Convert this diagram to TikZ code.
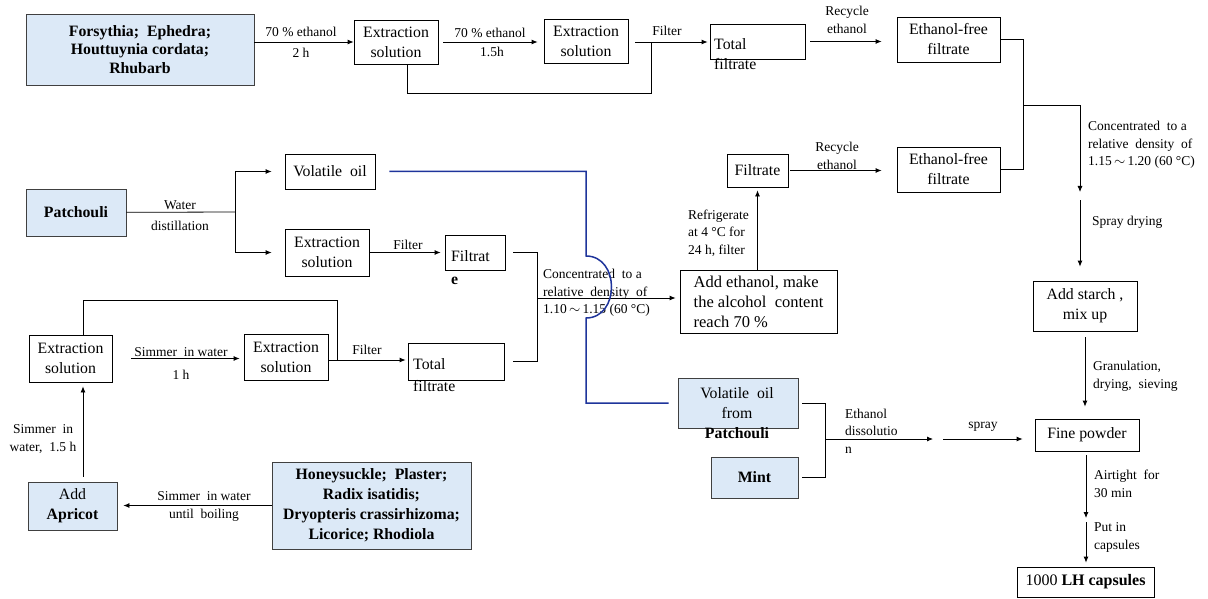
\documentclass[tikz,border=0pt]{standalone}
\usepackage{fontspec}
\setmainfont{Liberation Serif}
\usetikzlibrary{arrows.meta}
\definecolor{herbblue}{RGB}{220,233,247}
\definecolor{oilblue}{RGB}{30,52,155}
\newcommand{\bxfont}{\fontsize{15.8}{20}\selectfont}
\newcommand{\lbfont}{\fontsize{13.5}{17.5}\selectfont}
\newcommand{\tl}{\,$\sim$\,}
\begin{document}
\begin{tikzpicture}[x=1pt,y=-1pt]
\tikzset{box/.style={draw,line width=0.8pt,align=center,inner sep=0pt,font=\bxfont},
  herb/.style={box,fill=herbblue,draw=black!75,font=\bxfont\bfseries},
  lab/.style={font=\lbfont,align=center,inner sep=0pt},
  ln/.style={line width=0.8pt},
  arr/.style={ln,-{Latex[length=6pt,width=5pt]}}}
\useasboundingbox (0,0) rectangle (1208,599);
\node[herb,minimum width=228,minimum height=71] (forsy) at (140,49.5) {Forsythia;~ Ephedra;\\[-1.5pt]Houttuynia cordata;\\[-1.5pt]Rhubarb};
\node[box,minimum width=84,minimum height=44] (ext1) at (396,42) {Extraction\\solution};
\node[box,minimum width=84,minimum height=44] (ext2) at (586,41) {Extraction\\solution};
\node[box,minimum width=95,minimum height=35] (total1) at (757.5,41.5) {};
\node[lab,font=\bxfont,align=left,anchor=west] (total1t) at (714,54) {Total\\filtrate};
\node[box,minimum width=103,minimum height=45] (efree1) at (948.5,39.5) {Ethanol-free\\filtrate};
\node[box,minimum width=103,minimum height=45] (efree2) at (948.5,169.5) {Ethanol-free\\filtrate};
\node[box,minimum width=61,minimum height=33] (filt2) at (757.5,170.5) {Filtrate};
\node[box,minimum width=157,minimum height=63,align=left,font=\fontsize{16.5}{20}\selectfont] (addeth) at (758.5,301.5) {Add ethanol, make\\the alcohol~ content\\reach 70 \%};
\node[herb,minimum width=100,minimum height=47] (patch) at (76,212.5) {Patchouli};
\node[box,minimum width=90,minimum height=35] (voil) at (330,171.5) {Volatile~ oil};
\node[box,minimum width=84,minimum height=47] (ext3) at (327,252.5) {Extraction\\solution};
\node[box,minimum width=60,minimum height=35] (filt1) at (475,252.5) {};
\node[lab,font=\bxfont,align=left,anchor=west] (filt1t) at (451,267.5) {Filtrat\\[3pt]\textbf{e}};
\node[box,minimum width=83,minimum height=47] (ext4) at (70.5,358.5) {Extraction\\solution};
\node[box,minimum width=84,minimum height=46] (ext5) at (286,357) {Extraction\\solution};
\node[box,minimum width=96,minimum height=37] (total2) at (456,361.5) {};
\node[lab,font=\bxfont,align=left,anchor=west] (total2t) at (413,375) {Total\\[2pt]filtrate};
\node[herb,minimum width=89,minimum height=48,font=\bxfont] (apricot) at (72.5,506) {Add\\\textbf{Apricot}};
\node[herb,minimum width=199,minimum height=87] (honey) at (371.5,505.5) {Honeysuckle;~ Plaster;\\Radix isatidis;\\Dryopteris crassirhizoma;\\Licorice; Rhodiola};
\node[herb,minimum width=120,minimum height=50] (voilp) at (738,403) {};
\node[lab,font=\bxfont] (voilpt) at (737,413) {Volatile~ oil\\from\\\textbf{Patchouli}};
\node[herb,minimum width=87,minimum height=41] (mint) at (754.5,477.5) {Mint};
\node[box,minimum width=104,minimum height=50] (starch) at (1085,306) {Add starch ,\\mix up};
\node[box,minimum width=104,minimum height=32] (powder) at (1087,435) {Fine powder};
\node[box,minimum width=137,minimum height=30,font=\fontsize{16}{20}\selectfont] (caps) at (1085.5,582) {1000 \textbf{LH capsules}};
\coordinate (j1) at (651,42);
\coordinate (j2) at (537,298);
\coordinate (j3) at (1023,105);
\coordinate (c1) at (1080,192);
\coordinate (c2) at (1080,200);
\coordinate (j4) at (235,212);
\coordinate (h1) at (586,256);
\coordinate (h2) at (586,318);
\coordinate (j5) at (825,439);
\coordinate (c3) at (943,439);
\coordinate (j6) at (337,360);
\coordinate (c4) at (1086,518);
\coordinate (c5) at (1086,522);
\node[lab] (la1) at (301,32) {70 \% ethanol};
\node[lab] (la2) at (301,53) {2 h};
\node[lab] (lb1) at (490,33) {70 \% ethanol};
\node[lab] (lb2) at (492,52) {1.5h};
\node[lab] (lfil1) at (667,31) {Filter};
\node[lab] (lrec1) at (847,20) {Recycle\\ethanol};
\node[lab,align=left,anchor=west] (lconc1) at (1088,145) {Concentrated~ to a\\relative~ density~ of\\1.15\tl1.20 (60 °C)};
\node[lab,anchor=west] (lspray) at (1092,222) {Spray drying};
\node[lab] (lrec2) at (837,156) {Recycle\\ethanol};
\node[lab,align=left,anchor=west] (lrefr) at (688,233) {Refrigerate\\at 4 °C for\\24 h, filter};
\node[lab,align=left,anchor=west] (lconc2) at (543,293) {Concentrated~ to a\\relative~ density~ of\\1.10\tl1.15 (60 °C)};
\node[lab] (lwater) at (180,215.5) {Water\\[3pt]distillation};
\node[lab] (lfil2) at (408,245) {Filter};
\node[lab] (lfil3) at (367,350) {Filter};
\node[lab] (lsim1) at (181,363.5) {Simmer~ in water\\[5pt]1 h};
\node[lab] (lsim2) at (43,439) {Simmer~ in\\water,~ 1.5 h};
\node[lab] (lsim3) at (204,506.5) {Simmer~ in water\\until~ boiling};
\node[lab,align=left,anchor=west] (leth) at (845,431) {Ethanol\\dissolutio\\n};
\node[lab] (lspr) at (983,427) {spray};
\node[lab,align=left,anchor=west] (lgran) at (1093,376.5) {Granulation,\\drying,~ sieving};
\node[lab,align=left,anchor=west] (lair) at (1094,484) {Airtight~ for\\30 min};
\node[lab,align=left,anchor=west] (lput) at (1094,537.5) {Put in\\capsules};
\draw[arr] (forsy.east |- ext1) -- (ext1);
\draw[arr,shorten <=5,shorten >=6] (ext1) -- (ext1 -| ext2.west);
\draw[ln] ([xshift=7]ext2.east |- j1) -- (j1);
\draw[arr,shorten >=2] (j1) -- (j1 -| total1.west);
\draw[ln] ([xshift=11]ext1.south) -- ++(0,29) -| (j1);
\draw[arr,shorten <=5,shorten >=15] (total1.east) -- (total1.east -| efree1.west);
\draw[ln] (efree1) -| (j3) |- (efree2);
\draw[arr] (j3) -| (c1);
\draw[arr,shorten >=14] (c2) -- (c2 |- starch.north);
\draw[arr,shorten <=6,shorten >=12] (starch.south) -- (starch.south |- powder.north);
\draw[arr,shorten <=4] (powder.south -| c4) -- (c4);
\draw[arr,shorten >=4] (c5) -- (c5 |- caps.north);
\draw[arr,shorten <=2,shorten >=15] (filt2.east) -- (filt2.east -| efree2.west);
\draw[arr,shorten >=3] (addeth.north -| filt2) -- (filt2);
\draw[ln] ([xshift=8]filt1.east) -| (j2);
\draw[ln] ([xshift=9]total2.east) -| (j2);
\draw[arr,shorten >=4] (j2) -- (addeth.west |- j2);
\draw[ln] (patch) -- (j4);
\draw[arr,shorten >=13] (j4) |- (voil);
\draw[arr,shorten >=13] (j4) |- (ext3);
\draw[arr,shorten <=1,shorten >=4] (ext3) -- (filt1);
\draw[oilblue,line width=1.5pt] ([xshift=14]voil.east) -| (h1) .. controls (620,256) and (620,318) .. (h2) |- ([xshift=-9]voilp.west);
\draw[ln] ([xshift=12.5]ext4.north) -- ++(0,-34) -| (j6);
\draw[arr,shorten >=2] (ext5.east |- j6) -- (total2.west |- j6);
\draw[arr,shorten <=19,shorten >=4] (ext4.east) -- (ext4.east -| ext5.west);
\draw[arr,shorten <=5,shorten >=4] ([xshift=10.5]apricot.north) -- ([xshift=10.5]apricot.north |- ext4.south);
\draw[arr,shorten >=6] (honey) -- (honey -| apricot.east);
\draw[ln,shorten <=4] (voilp.east) -| (j5);
\draw[ln,shorten <=4] (mint.east) -| (j5);
\draw[arr,shorten >=10] (j5) -- (c3);
\draw[arr,shorten >=12] (c3) -- (c3 -| powder.west);
\end{tikzpicture}
\end{document}
